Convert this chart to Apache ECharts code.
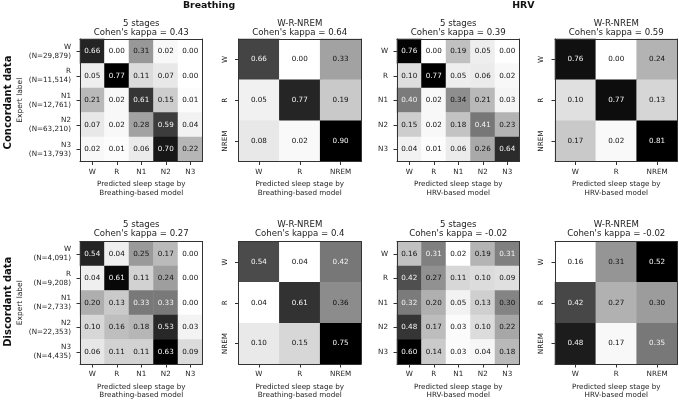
<!DOCTYPE html>
<html>
<head>
<meta charset="utf-8">
<script src="https://cdn.jsdelivr.net/npm/echarts@6/dist/echarts.min.js"></script>
<style>
html,body{margin:0;padding:0;background:#fff;}
#chart{width:679px;height:401px;}
</style>
</head>
<body>
<div id="chart"></div>
<script>
// ---------- data ----------
const stages5 = ['W', 'R', 'N1', 'N2', 'N3'];
const stages3 = ['W', 'R', 'NREM'];
const concordantN = ['29,879', '11,514', '12,761', '63,210', '13,793'];
const discordantN = ['4,091', '9,208', '2,733', '22,353', '4,435'];

const concBreath5 = [
  [0.66, 0.00, 0.31, 0.02, 0.00],
  [0.05, 0.77, 0.11, 0.07, 0.00],
  [0.21, 0.02, 0.61, 0.15, 0.01],
  [0.07, 0.02, 0.28, 0.59, 0.04],
  [0.02, 0.01, 0.06, 0.70, 0.22]
];
const concBreath3 = [
  [0.66, 0.00, 0.33],
  [0.05, 0.77, 0.19],
  [0.08, 0.02, 0.90]
];
const concHRV5 = [
  [0.76, 0.00, 0.19, 0.05, 0.00],
  [0.10, 0.77, 0.05, 0.06, 0.02],
  [0.40, 0.02, 0.34, 0.21, 0.03],
  [0.15, 0.02, 0.18, 0.41, 0.23],
  [0.04, 0.01, 0.06, 0.26, 0.64]
];
const concHRV3 = [
  [0.76, 0.00, 0.24],
  [0.10, 0.77, 0.13],
  [0.17, 0.02, 0.81]
];
const discBreath5 = [
  [0.54, 0.04, 0.25, 0.17, 0.00],
  [0.04, 0.61, 0.11, 0.24, 0.00],
  [0.20, 0.13, 0.33, 0.33, 0.00],
  [0.10, 0.16, 0.18, 0.53, 0.03],
  [0.06, 0.11, 0.11, 0.63, 0.09]
];
const discBreath3 = [
  [0.54, 0.04, 0.42],
  [0.04, 0.61, 0.36],
  [0.10, 0.15, 0.75]
];
const discHRV5 = [
  [0.16, 0.31, 0.02, 0.19, 0.31],
  [0.42, 0.27, 0.11, 0.10, 0.09],
  [0.32, 0.20, 0.05, 0.13, 0.30],
  [0.48, 0.17, 0.03, 0.10, 0.22],
  [0.60, 0.14, 0.03, 0.04, 0.18]
];
const discHRV3 = [
  [0.16, 0.31, 0.52],
  [0.42, 0.27, 0.30],
  [0.48, 0.17, 0.35]
];
const kappaLabels = ['0.43', '0.64', '0.39', '0.59', '0.27', '0.4', '-0.02', '-0.02'];
const panelTitles = ['5 stages', 'W-R-NREM', '5 stages', 'W-R-NREM', '5 stages', 'W-R-NREM', '5 stages', 'W-R-NREM'];
const modelNames = ['Breathing', 'Breathing', 'HRV', 'HRV', 'Breathing', 'Breathing', 'HRV', 'HRV'];
const matrices = [concBreath5, concBreath3, concHRV5, concHRV3, discBreath5, discBreath3, discHRV5, discHRV3];
const rowNames = ['Concordant data', 'Discordant data'];
const colNames = ['Breathing', 'HRV'];

// ---------- layout / style ----------
const FONT = '"DejaVu Sans", sans-serif';
const greys = ['#ffffff', '#000000'];
const colLeft = [80, 238.5, 397, 555];
const rowTop = [39, 241.5];
const SIZE = 122.5;
const spine = '#333';
const textCol = '#222';

const grids = [], xAxes = [], yAxes = [], series = [], visualMaps = [], graphics = [];
const topX = [], rightY = [];

matrices.forEach((m, i) => {
  const row = Math.floor(i / 4), col = i % 4;
  const cats = m.length === 5 ? stages5 : stages3;
  const nArr = row === 0 ? concordantN : discordantN;
  let ylabels;
  if (col === 0) ylabels = cats.map((c, k) => c + '\n(N=' + nArr[k] + ')');
  else ylabels = cats.slice();
  const rotated = m.length === 3;
  grids.push({ left: colLeft[col], top: rowTop[row], width: SIZE, height: SIZE, containLabel: false });

  xAxes.push({
    type: 'category', gridIndex: i, data: cats, position: 'bottom', z: 10,
    axisLine: { show: true, lineStyle: { color: spine, width: 1 } },
    axisTick: { show: true, alignWithLabel: true, length: 3.5, lineStyle: { color: spine } },
    axisLabel: { margin: 7, fontSize: 7.2, color: textCol, fontFamily: FONT },
    splitLine: { show: false },
    name: 'Predicted sleep stage by\n' + modelNames[i] + '-based model',
    nameLocation: 'middle', nameGap: 18.5,
    nameTextStyle: { fontSize: 7.2, lineHeight: 8.5, color: textCol, fontFamily: FONT }
  });
  topX.push({
    type: 'category', gridIndex: i, data: cats, position: 'top', z: 10,
    axisLine: { show: true, lineStyle: { color: spine, width: 1 } },
    axisTick: { show: false }, axisLabel: { show: false }, splitLine: { show: false }
  });
  yAxes.push({
    type: 'category', gridIndex: i, data: ylabels, inverse: true, position: 'left', z: 10,
    axisLine: { show: true, lineStyle: { color: spine, width: 1 } },
    axisTick: { show: true, alignWithLabel: true, length: 3.5, lineStyle: { color: spine } },
    axisLabel: { margin: 9, fontSize: 7.2, lineHeight: 9, color: textCol, fontFamily: FONT, rotate: rotated ? 90 : 0 },
    splitLine: { show: false },
    name: col === 0 ? 'Expert label' : '', nameLocation: 'middle', nameGap: 56,
    nameTextStyle: { fontSize: 7.5, color: textCol, fontFamily: FONT }
  });
  rightY.push({
    type: 'category', gridIndex: i, data: ylabels, inverse: true, position: 'right', z: 10,
    axisLine: { show: true, lineStyle: { color: spine, width: 1 } },
    axisTick: { show: false }, axisLabel: { show: false }, splitLine: { show: false }
  });

  const flat = m.flat();
  const mn = Math.min(...flat), mx = Math.max(...flat);
  const thresh = (mn + mx) / 2;
  const data = [];
  m.forEach((r, ri) => r.forEach((v, ci) => {
    data.push({ value: [ci, ri, v], label: { color: v < thresh ? '#111' : '#f4f4f4' } });
  }));
  series.push({
    type: 'heatmap', xAxisIndex: i, yAxisIndex: i, data: data,
    label: { show: true, fontSize: 7.2, fontFamily: FONT, formatter: p => p.value[2].toFixed(2) },
    itemStyle: { borderWidth: 0 },
    emphasis: { disabled: true }
  });
  visualMaps.push({
    type: 'continuous', show: false, seriesIndex: i, dimension: 2,
    min: mn, max: mx, inRange: { color: greys }
  });

  const cx = colLeft[col] + SIZE / 2;
  const ty = row === 0 ? [23.3, 32.3] : [224.6, 233.9];
  graphics.push({ type: 'text', x: cx, y: ty[0], style: { text: panelTitles[i], align: 'center', verticalAlign: 'middle', fontSize: 8.6, fontFamily: FONT, fill: textCol } });
  graphics.push({ type: 'text', x: cx, y: ty[1], style: { text: "Cohen's kappa = " + kappaLabels[i], align: 'center', verticalAlign: 'middle', fontSize: 8.6, fontFamily: FONT, fill: textCol } });
});

// row labels
[102.5, 301.7].forEach((cy, r) => {
  graphics.push({ type: 'text', x: 8, y: cy, rotation: Math.PI / 2, style: { text: rowNames[r], align: 'center', verticalAlign: 'middle', fontSize: 10, fontWeight: 'bold', fontFamily: FONT, fill: '#111' } });
});
// column labels
[209, 523.3].forEach((cx, c) => {
  graphics.push({ type: 'text', x: cx, y: 5.5, style: { text: colNames[c], align: 'center', verticalAlign: 'middle', fontSize: 9.4, fontWeight: 'bold', fontFamily: FONT, fill: '#111' } });
});

const chart = echarts.init(document.getElementById('chart'), null, { renderer: 'canvas' });
chart.setOption({
  backgroundColor: '#ffffff',
  animation: false,
  grid: grids,
  xAxis: xAxes.concat(topX),
  yAxis: yAxes.concat(rightY),
  visualMap: visualMaps,
  series: series,
  graphic: graphics
});
</script>
</body>
</html>
